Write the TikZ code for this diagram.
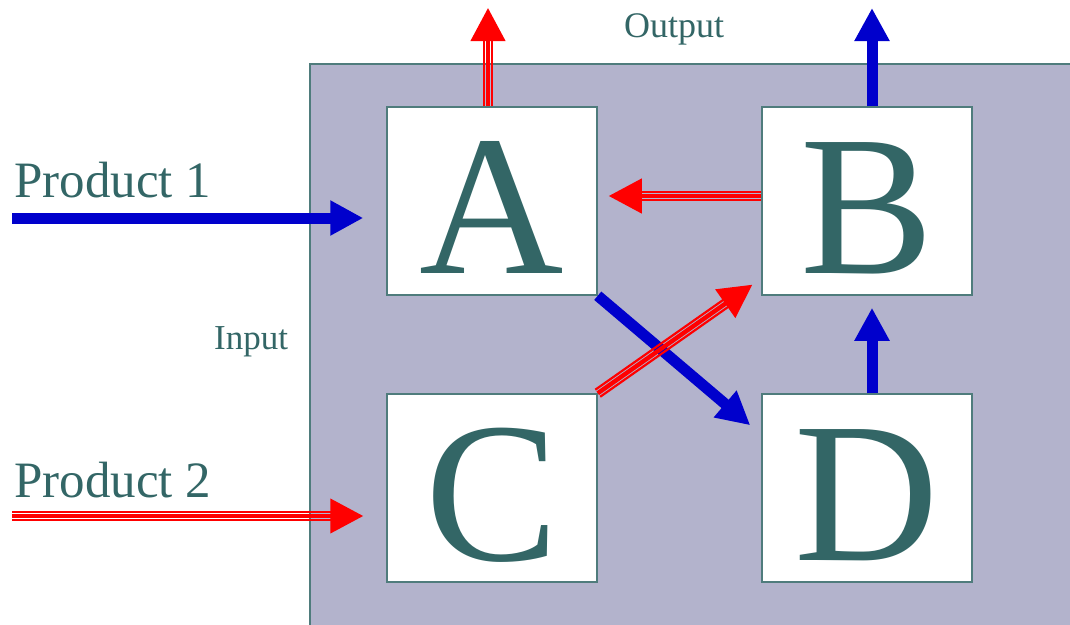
\documentclass[tikz,border=0pt]{standalone}
\usepackage{fontspec}
\setmainfont{Liberation Serif}
\usetikzlibrary{arrows.meta,calc}

\definecolor{inkteal}{HTML}{336666}
\definecolor{edgeteal}{HTML}{4F7C7C}
\definecolor{panel}{HTML}{B3B3CC}
\definecolor{flowblue}{HTML}{0000CC}
\definecolor{flowred}{HTML}{FF0000}

\tikzset{
  unit/.style={draw=edgeteal, line width=1.5pt, fill=white,
    minimum width=210pt, minimum height=188pt, inner sep=0pt,
    text=inkteal, font=\fontsize{200}{200}\selectfont,
    text height=144pt, text depth=0pt},
  caption/.style={anchor=base west, inner sep=0pt, text=inkteal},
  blueflow/.style={draw=flowblue, line width=11pt,
    -{Triangle[length=33pt,width=33pt]}},
  redmid/.style={draw=flowred, line width=4.4pt,
    -{Triangle[length=33pt,width=34pt]}},
  redside/.style={draw=flowred, line width=2.2pt, shorten >=28pt},
}

% three parallel red strokes sharing one arrowhead
\newcommand\redflow[2]{%
  \draw[redside] ($(#1)!4.3pt!90:(#2)$) -- ($(#2)!4.3pt!-90:(#1)$);
  \draw[redside] ($(#1)!4.3pt!-90:(#2)$) -- ($(#2)!4.3pt!90:(#1)$);
  \draw[redmid] (#1) -- (#2);
}

\begin{document}
\begin{tikzpicture}[x=1pt, y=-1pt]
\useasboundingbox (0,0) rectangle (1070,624);
\clip (0,0) rectangle (1070,624);

% shaded panel
\draw[edgeteal, line width=2pt, fill=panel] (309.5,63.5) rectangle (1085,640);

% process units
\node[unit] (A) at (492,201) {A};
\node[unit] (B) at (867,201) {B};
\node[unit] (C) at (492,488) {C};
\node[unit] (D) at (867,488) {D};

% labels
\node[caption, font=\fontsize{51}{51}\selectfont] (lp1) at (14,197) {Product 1};
\node[caption, font=\fontsize{51}{51}\selectfont] (lp2) at (14,497) {Product 2};
\node[caption, font=\fontsize{35}{35}\selectfont] (lin) at (214,349) {Input};
\node[caption, font=\fontsize{36}{36}\selectfont] (lout) at (624,37) {Output};

% free ends and offset anchors
\coordinate (p1) at (12,218);
\coordinate (p2) at (12,516);
\coordinate (outA) at (488,8);
\coordinate (outB) at (872,8);
\coordinate (aTop) at ([xshift=-4pt]A.north);
\coordinate (bTop) at ([xshift=5pt]B.north);
\coordinate (bLeft) at ([yshift=5pt]B.west);
\coordinate (aRight) at ([xshift=11pt,yshift=5pt]A.east);
\coordinate (dTop) at ([xshift=5pt]D.north);
\coordinate (bBottom) at ([xshift=5pt,yshift=-12pt]B.south);
\coordinate (dCorner) at ([xshift=-11pt,yshift=-32pt]D.north west);
\coordinate (bCorner) at ([xshift=-9pt,yshift=11pt]B.south west);
\coordinate (p1end) at ([xshift=-23pt]A.west |- p1);
\coordinate (p2end) at ([xshift=-23pt]C.west |- p2);

% blue flows
\draw[blueflow] (p1) -- (p1end);
\draw[blueflow] (bTop) -- (outB);
\draw[blueflow] (dTop) -- (bBottom);
\draw[blueflow] (A.south east) -- (dCorner);

% red flows
\redflow{p2}{p2end}
\redflow{aTop}{outA}
\redflow{bLeft}{aRight}
\redflow{C.north east}{bCorner}
\end{tikzpicture}
\end{document}
